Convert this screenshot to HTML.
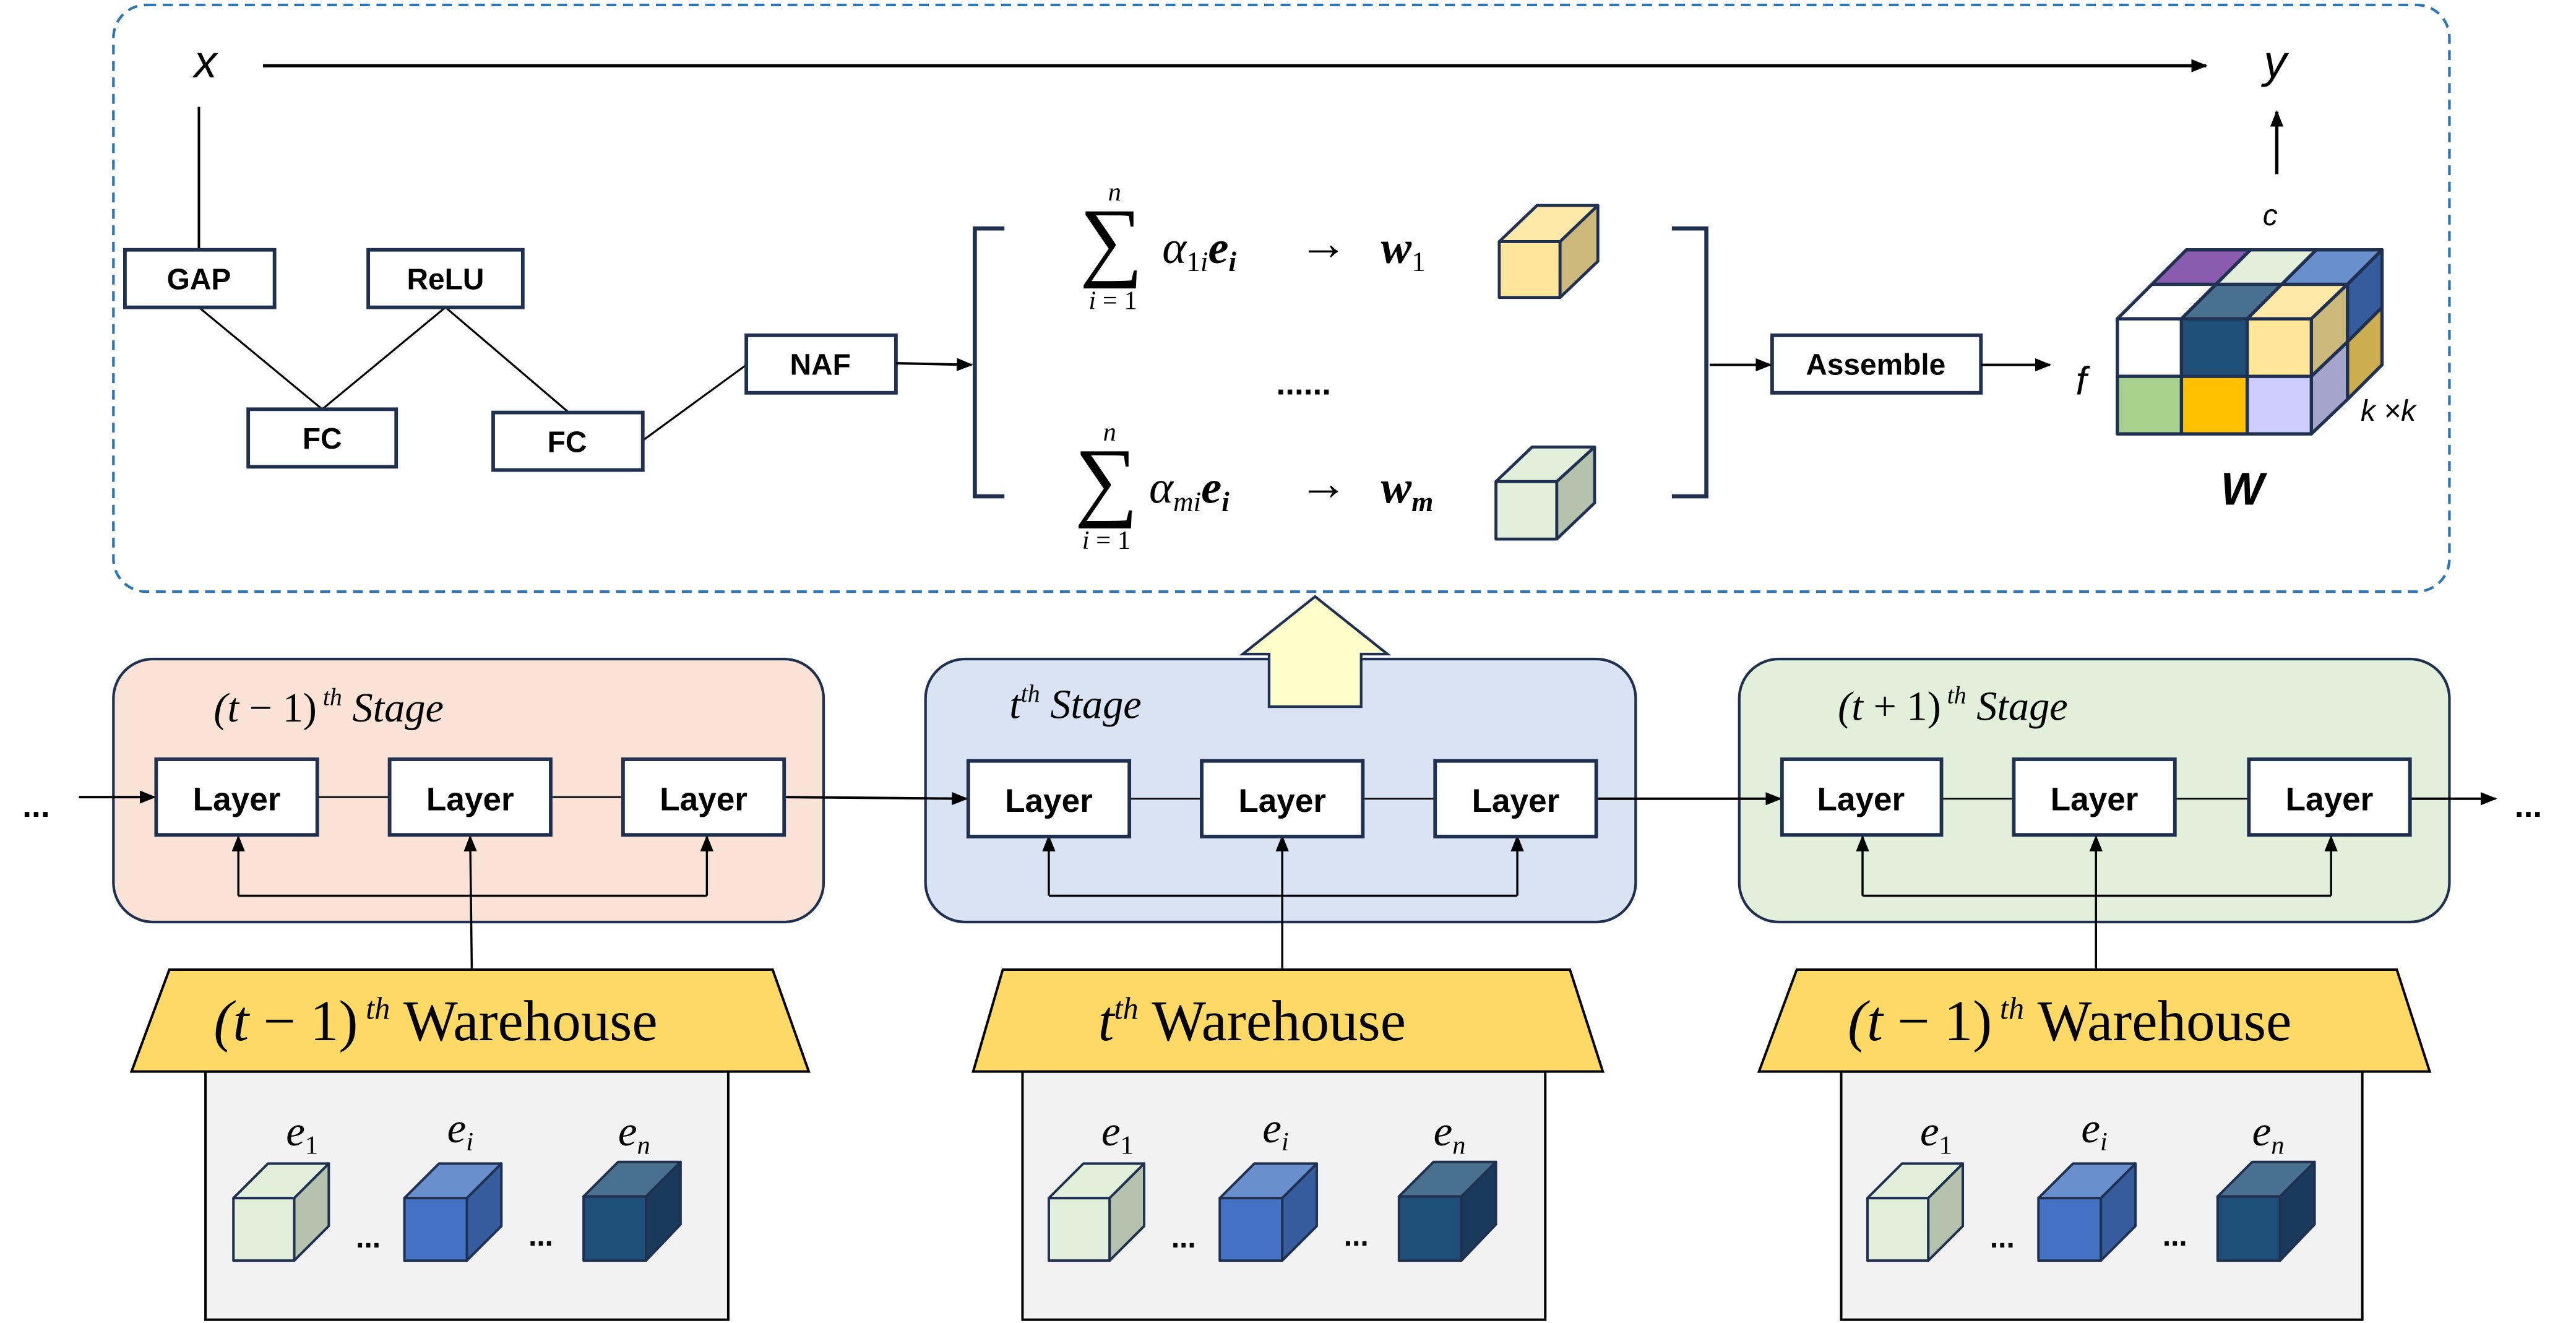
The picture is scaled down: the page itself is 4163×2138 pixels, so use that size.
<!DOCTYPE html>
<html><head><meta charset="utf-8"><style>
html,body{margin:0;padding:0;background:#fff;}
svg{display:block;}
.b{font-family:"Liberation Sans",sans-serif;font-weight:bold;}
.m{font-family:"Liberation Serif",serif;font-style:italic;}
.r{font-family:"Liberation Serif",serif;}
.s{font-family:"Liberation Sans",sans-serif;font-style:italic;}
</style></head><body>
<svg width="4163" height="2138" viewBox="0 0 1567 805" preserveAspectRatio="none" xmlns="http://www.w3.org/2000/svg">
<defs>
<marker id="ah" markerWidth="10" markerHeight="10" refX="9" refY="5" orient="auto" markerUnits="userSpaceOnUse"><path d="M0,1 L10,5 L0,9 Z" fill="#000"/></marker>
</defs>
<rect x="69" y="3" width="1421" height="357" rx="20" fill="none" stroke="#2E75B6" stroke-width="1.6" stroke-dasharray="6,4"/>
<text x="125" y="47" class="s" font-size="28" text-anchor="middle">x</text>
<line x1="160" y1="40" x2="1342" y2="40" stroke="#000" stroke-width="2" marker-end="url(#ah)"/>
<text x="1384" y="47" class="s" font-size="28" text-anchor="middle">y</text>
<line x1="1385" y1="106" x2="1385" y2="68" stroke="#000" stroke-width="2" marker-end="url(#ah)"/>
<text x="1381" y="137" class="s" font-size="18" text-anchor="middle">c</text>
<line x1="121" y1="65" x2="121" y2="152" stroke="#000" stroke-width="1.5"/>
<g stroke="#000" stroke-width="1.2" fill="none">
<line x1="121" y1="187" x2="196" y2="249"/>
<line x1="196" y1="249" x2="271" y2="187"/>
<line x1="271" y1="187" x2="346" y2="251"/>
<line x1="391" y1="268" x2="454" y2="222"/>
</g>
<g fill="#fff" stroke="#1F3050" stroke-width="2.2">
<rect x="76" y="152" width="91" height="35"/>
<rect x="224" y="152" width="94" height="35"/>
<rect x="151" y="249" width="90" height="35"/>
<rect x="300" y="251" width="91" height="35"/>
<rect x="454" y="204" width="91" height="35"/>
<rect x="1078" y="204" width="127" height="35"/>
</g>
<g class="b" font-size="18" text-anchor="middle">
<text x="121" y="176">GAP</text><text x="271" y="176">ReLU</text>
<text x="196" y="273">FC</text><text x="345" y="275">FC</text>
<text x="499" y="228">NAF</text><text x="1141" y="228">Assemble</text>
</g>
<line x1="545" y1="221" x2="591" y2="222" stroke="#000" stroke-width="1.5" marker-end="url(#ah)"/>
<path d="M611,139 H593 V302 H611" fill="none" stroke="#1F3050" stroke-width="2.5"/>
<path d="M1017,139 H1038 V302 H1017" fill="none" stroke="#1F3050" stroke-width="2.5"/>
<!-- formulas -->
<text x="676" y="164" class="r" font-size="54" text-anchor="middle">∑</text>
<text x="678" y="122" class="m" font-size="16" text-anchor="middle">n</text>
<text x="677" y="188" class="m" font-size="16" text-anchor="middle">i<tspan font-style="normal"> = 1</tspan></text>
<text x="707" y="160" class="m" font-size="28">α<tspan font-size="17" dy="5" font-style="normal">1</tspan><tspan font-size="17">i</tspan><tspan dy="-5" font-weight="bold">e</tspan><tspan font-size="17" dy="5" font-weight="bold">i</tspan></text>
<text x="805" y="158" class="r" font-size="30" text-anchor="middle">→</text>
<text x="840" y="160" class="m" font-size="28" font-weight="bold">w<tspan font-size="17" dy="5" font-weight="normal" font-style="normal">1</tspan></text>
<text x="793" y="240" class="b" font-size="20" text-anchor="middle">......</text>
<text x="673" y="310" class="r" font-size="54" text-anchor="middle">∑</text>
<text x="675" y="268" class="m" font-size="16" text-anchor="middle">n</text>
<text x="673" y="334" class="m" font-size="16" text-anchor="middle">i<tspan font-style="normal"> = 1</tspan></text>
<text x="699" y="306" class="m" font-size="28">α<tspan font-size="17" dy="5">mi</tspan><tspan dy="-5" font-weight="bold">e</tspan><tspan font-size="17" dy="5" font-weight="bold">i</tspan></text>
<text x="805" y="304" class="r" font-size="30" text-anchor="middle">→</text>
<text x="840" y="306" class="m" font-size="28" font-weight="bold">w<tspan font-size="17" dy="5">m</tspan></text>
<g stroke="#1F3050" stroke-width="1.8" stroke-linejoin="round">
<rect x="912" y="147" width="37" height="34" fill="#FFE699"/>
<path d="M912,147 L935,125 L972,125 L949,147 Z" fill="#FFE8A8"/>
<path d="M949,147 L972,125 L972,159 L949,181 Z" fill="#CDB87C"/>
<rect x="910" y="293" width="37" height="35" fill="#E2EFDA"/>
<path d="M910,293 L932,272 L970,272 L947,293 Z" fill="#E2EFDA"/>
<path d="M947,293 L970,272 L970,306 L947,328 Z" fill="#B4C2AE"/>
</g>
<line x1="1040" y1="222" x2="1077" y2="222" stroke="#000" stroke-width="1.5" marker-end="url(#ah)"/>
<line x1="1205" y1="222" x2="1247" y2="222" stroke="#000" stroke-width="1.5" marker-end="url(#ah)"/>
<text x="1266" y="240" class="s" font-size="24" text-anchor="middle">f</text>
<g stroke="#1F3050" stroke-width="2" stroke-linejoin="round">
<path d="M1309,173 L1330,152 L1369,152 L1348,173 Z" fill="#8B5BAF"/>
<path d="M1348,173 L1369,152 L1409,152 L1388,173 Z" fill="#E2EFDA"/>
<path d="M1388,173 L1409,152 L1449,152 L1428,173 Z" fill="#6A8FCD"/>
<path d="M1288,194 L1309,173 L1348,173 L1327,194 Z" fill="#FFFFFF"/>
<path d="M1327,194 L1348,173 L1388,173 L1367,194 Z" fill="#4A7090"/>
<path d="M1367,194 L1388,173 L1428,173 L1406,194 Z" fill="#FFE7A8"/>
<path d="M1428,173 L1449,152 L1449,187 L1428,208 Z" fill="#365C9E"/>
<path d="M1428,208 L1449,187 L1449,222 L1428,243 Z" fill="#CCAE50"/>
<path d="M1406,194 L1428,173 L1428,208 L1406,229 Z" fill="#CDB87C"/>
<path d="M1406,229 L1428,208 L1428,243 L1406,264 Z" fill="#A5A5CB"/>
<rect x="1288" y="194" width="39" height="35" fill="#FFFFFF"/>
<rect x="1327" y="194" width="40" height="35" fill="#1F4E79"/>
<rect x="1367" y="194" width="39" height="35" fill="#FFE699"/>
<rect x="1288" y="229" width="39" height="35" fill="#A9D18E"/>
<rect x="1327" y="229" width="40" height="35" fill="#FFC000"/>
<rect x="1367" y="229" width="39" height="35" fill="#CCCCFF"/>
</g>
<text x="1436" y="256" class="s" font-size="18">k ×k</text>
<text x="1364" y="307" class="b" font-size="28" font-style="italic" text-anchor="middle">W</text>

<g stroke="#1F3050" stroke-width="1.6">
<rect x="69" y="401" width="432" height="160" rx="24" fill="#FAE3D6"/>
<rect x="563" y="401" width="432" height="160" rx="24" fill="#DAE3F3"/>
<rect x="1058" y="401" width="432" height="160" rx="24" fill="#E2EFDA"/>
</g>
<text x="130" y="439" class="m" font-size="25">(t<tspan font-style="normal"> − 1)</tspan><tspan font-size="15" dy="-10"> th</tspan><tspan dy="10">   Stage</tspan></text>
<text x="614" y="437" class="m" font-size="25">t<tspan font-size="15" dy="-10">th</tspan><tspan dy="10">   Stage</tspan></text>
<text x="1118" y="438" class="m" font-size="25">(t<tspan font-style="normal"> + 1)</tspan><tspan font-size="15" dy="-10"> th</tspan><tspan dy="10">   Stage</tspan></text>
<path d="M772,430 L772,398 L756,398 L800,363 L844,398 L828,398 L828,430 Z" fill="#FFFFCC" stroke="#1F3050" stroke-width="1.6"/>
<text x="22" y="497" class="b" font-size="20" text-anchor="middle">...</text>
<line x1="48" y1="485" x2="94" y2="485" stroke="#000" stroke-width="1.5" marker-end="url(#ah)"/>
<line x1="477" y1="485" x2="588" y2="486" stroke="#000" stroke-width="1.5" marker-end="url(#ah)"/>
<line x1="971" y1="486" x2="1083" y2="486" stroke="#000" stroke-width="1.5" marker-end="url(#ah)"/>
<line x1="1466" y1="486" x2="1518" y2="486" stroke="#000" stroke-width="1.5" marker-end="url(#ah)"/>
<text x="1538" y="497" class="b" font-size="20" text-anchor="middle">...</text>
<g stroke="#000" stroke-width="1" fill="none">
<line x1="193" y1="485" x2="237" y2="485"/><line x1="335" y1="485" x2="379" y2="485"/>
<line x1="687" y1="486" x2="731" y2="486"/><line x1="829" y1="486" x2="873" y2="486"/>
<line x1="1181" y1="486" x2="1225" y2="486"/><line x1="1323" y1="486" x2="1368" y2="486"/>
</g>
<g stroke="#000" stroke-width="1.3" fill="none">
<path d="M145,545 H430"/><line x1="145" y1="545" x2="145" y2="509" marker-end="url(#ah)"/><line x1="430" y1="545" x2="430" y2="509" marker-end="url(#ah)"/>
<line x1="287" y1="590" x2="286" y2="509" marker-end="url(#ah)"/>
<path d="M638,545 H923"/><line x1="638" y1="545" x2="638" y2="509" marker-end="url(#ah)"/><line x1="923" y1="545" x2="923" y2="509" marker-end="url(#ah)"/>
<line x1="780" y1="590" x2="780" y2="509" marker-end="url(#ah)"/>
<path d="M1133,545 H1418"/><line x1="1133" y1="545" x2="1133" y2="509" marker-end="url(#ah)"/><line x1="1418" y1="545" x2="1418" y2="509" marker-end="url(#ah)"/>
<line x1="1275" y1="590" x2="1275" y2="509" marker-end="url(#ah)"/>
</g>
<g fill="#fff" stroke="#1F3050" stroke-width="2.2">
<rect x="95" y="462" width="98" height="46"/><rect x="237" y="462" width="98" height="46"/><rect x="379" y="462" width="98" height="46"/>
<rect x="589" y="463" width="98" height="46"/><rect x="731" y="463" width="98" height="46"/><rect x="873" y="463" width="98" height="46"/>
<rect x="1084" y="462" width="97" height="46"/><rect x="1225" y="462" width="98" height="46"/><rect x="1368" y="462" width="98" height="46"/>
</g>
<g class="b" font-size="20" text-anchor="middle">
<text x="144" y="493">Layer</text><text x="286" y="493">Layer</text><text x="428" y="493">Layer</text>
<text x="638" y="494">Layer</text><text x="780" y="494">Layer</text><text x="922" y="494">Layer</text>
<text x="1132" y="493">Layer</text><text x="1274" y="493">Layer</text><text x="1417" y="493">Layer</text>
</g>
<g stroke="#000" stroke-width="1.5">
<rect x="125" y="652" width="318" height="151" fill="#F2F2F2"/>
<rect x="622" y="652" width="318" height="151" fill="#F2F2F2"/>
<rect x="1120" y="652" width="317" height="151" fill="#F2F2F2"/>
<path d="M103,590 L470,590 L492,652 L80,652 Z" fill="#FFD966"/>
<path d="M610,590 L955,590 L975,652 L592,652 Z" fill="#FFD966"/>
<path d="M1093,590 L1458,590 L1478,652 L1070,652 Z" fill="#FFD966"/>
</g>
<g class="r" font-size="35">
<text x="130" y="633"><tspan font-style="italic">(t</tspan> − 1)<tspan font-size="19" dy="-13" font-style="italic"> th</tspan><tspan dy="13">   Warehouse</tspan></text>
<text x="668" y="633"><tspan font-style="italic">t</tspan><tspan font-size="19" dy="-13" font-style="italic">th</tspan><tspan dy="13">   Warehouse</tspan></text>
<text x="1124" y="633"><tspan font-style="italic">(t</tspan> − 1)<tspan font-size="19" dy="-13" font-style="italic"> th</tspan><tspan dy="13">   Warehouse</tspan></text>
</g>
<g id="wc">
<g class="m" font-size="26">
<text x="174" y="697">e<tspan font-size="16" dy="5" font-style="normal">1</tspan></text>
<text x="272" y="695">e<tspan font-size="16" dy="5">i</tspan></text>
<text x="376" y="697">e<tspan font-size="16" dy="5">n</tspan></text>
</g>
<g stroke="#1F3050" stroke-width="1.5" stroke-linejoin="round">
<rect x="142" y="729" width="37" height="38" fill="#E2EFDA"/>
<path d="M142,729 L163,708 L200,708 L179,729 Z" fill="#E2EFDA"/>
<path d="M179,729 L200,708 L200,746 L179,767 Z" fill="#B4C2AE"/>
<rect x="246" y="729" width="38" height="38" fill="#4472C4"/>
<path d="M246,729 L267,708 L305,708 L284,729 Z" fill="#6A8FCD"/>
<path d="M284,729 L305,708 L305,746 L284,767 Z" fill="#365C9E"/>
<rect x="355" y="728" width="38" height="39" fill="#1F4E79"/>
<path d="M355,728 L376,707 L414,707 L393,728 Z" fill="#4A7090"/>
<path d="M393,728 L414,707 L414,745 L393,767 Z" fill="#1A3A5C"/>
</g>
<text x="224" y="759" class="b" font-size="18" text-anchor="middle">...</text>
<text x="329" y="758" class="b" font-size="18" text-anchor="middle">...</text>
</g>
<use href="#wc" transform="translate(496,0)"/>
<use href="#wc" transform="translate(994,0)"/>
</svg>
</body></html>
